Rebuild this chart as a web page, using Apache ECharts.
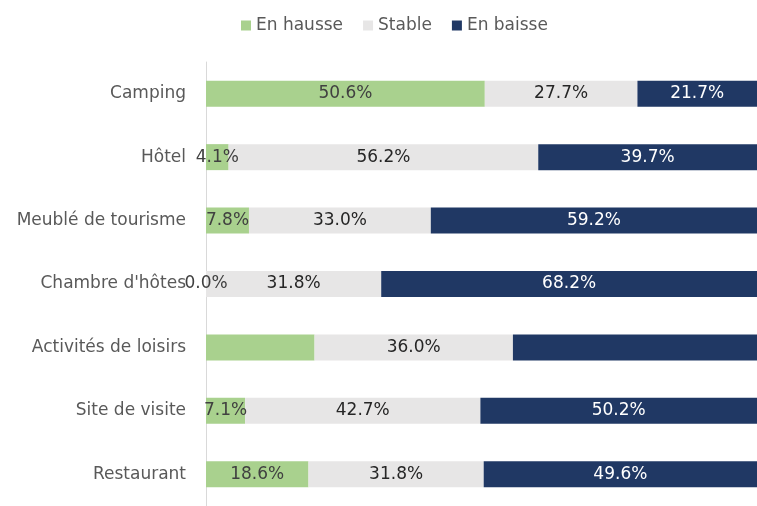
<!DOCTYPE html>
<html>
<head>
<meta charset="utf-8">
<script src="https://cdn.jsdelivr.net/npm/echarts@6/dist/echarts.min.js"></script>
<style>
  html, body { margin: 0; padding: 0; background: #fff; }
  #chart { width: 757px; height: 506px; }
</style>
</head>
<body>
<div id="chart"></div>
<script>
// Share of respondents per sector, top to bottom as in the picture
const categories = ["Camping", "Hôtel", "Meublé de tourisme", "Chambre d'hôtes",
  "Activités de loisirs", "Site de visite", "Restaurant"]
const hausse = [50.6, 4.1, 7.8, 0.0, 19.7, 7.1, 18.6]
const stable = [27.7, 56.2, 33.0, 31.8, 36.0, 42.7, 31.8]
const baisse = [21.7, 39.7, 59.2, 68.2, 44.3, 50.2, 49.6]
// values whose labels are not shown in the original
const hiddenLabels = { hausse: ["Activités de loisirs"], baisse: ["Activités de loisirs"] }

const FONT = "'DejaVu Sans', sans-serif"

function toData(values, key) {
  const hidden = hiddenLabels[key] || []
  return values.map((v, i) =>
    hidden.includes(categories[i]) ? { value: v, label: { show: false } } : v)
}

function bar(name, key, values, color, labelColor) {
  return {
    name: name,
    type: "bar",
    stack: "total",
    barWidth: 26,
    data: toData(values, key),
    itemStyle: { color: color },
    label: {
      show: true,
      position: "inside",
      formatter: p => p.value.toFixed(1) + "%",
      color: labelColor,
      fontFamily: FONT,
      fontSize: 17,
    },
  }
}

const chart = echarts.init(document.getElementById("chart"), null, { renderer: "canvas" })
chart.setOption({
  animation: false,
  legend: {
    top: 12,
    left: 236,
    itemWidth: 10,
    itemHeight: 10,
    itemGap: 20,
    icon: "rect",
    textStyle: { fontFamily: FONT, fontSize: 17, color: "#595959" },
    data: ["En hausse", "Stable", "En baisse"],
  },
  grid: { left: 206, right: 0, top: 62, height: 449 },
  xAxis: { type: "value", min: 0, max: 100, show: false },
  yAxis: {
    type: "category",
    inverse: true,
    data: categories,
    axisLine: { show: true, lineStyle: { color: "#D9D9D9", width: 1 } },
    axisTick: { show: false },
    axisLabel: { fontFamily: FONT, fontSize: 17, color: "#595959", margin: 20 },
  },
  series: [
    bar("En hausse", "hausse", hausse, "#A9D18E", "#404040"),
    bar("Stable", "stable", stable, "#E7E6E6", "#262626"),
    bar("En baisse", "baisse", baisse, "#203864", "#FFFFFF"),
  ],
})
</script>
</body>
</html>
